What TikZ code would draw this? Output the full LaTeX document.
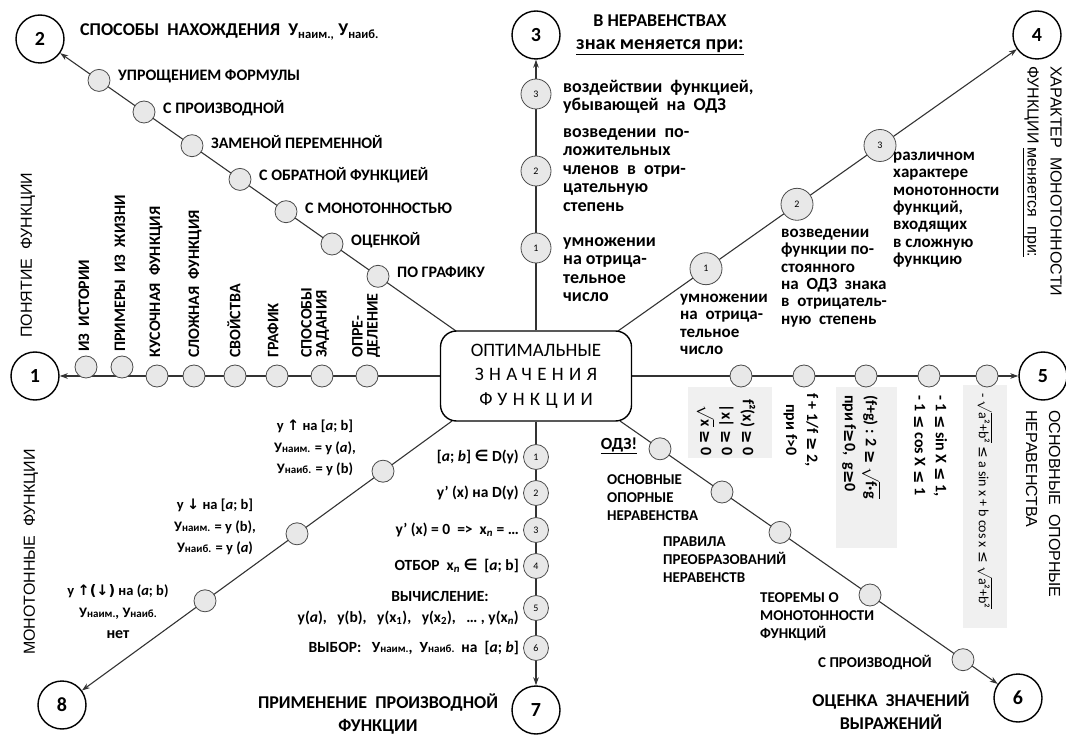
\documentclass[tikz,border=0pt]{standalone}
\usepackage{fontspec}
\setmainfont{Carlito}
\newfontfamily\symf{DejaVu Sans}
\newfontfamily\arl{Liberation Sans}
\usetikzlibrary{arrows.meta,calc}
\pgfdeclarelayer{bg}\pgfsetlayers{bg,main}
\newcommand{\fsz}[2]{\fontsize{#1}{#2}\selectfont}
\newcommand{\gee}{{\symf ≥}}
\newcommand{\lee}{{\symf ≤}}
\newcommand{\yn}[1]{У{\fsz{11}{11}#1}}
\begin{document}
\begin{tikzpicture}[x=1pt,y=-1pt,
  ln/.style={draw=black!80, line width=1.1pt},
  arr/.style={-{Stealth[length=8pt,width=5.5pt]}},
  big/.style={circle, draw, line width=1.4pt, minimum size=48pt, inner sep=0pt, fill=white, font=\fsz{20}{20}\bfseries},
  sc/.style={circle, draw=black!70, line width=0.8pt, fill=black!9, minimum size=22pt, inner sep=0pt},
  scn/.style={sc, minimum size=30pt, font=\fsz{10}{10}},
  scm/.style={sc, minimum size=25pt, font=\fsz{10}{10}},
  lab/.style={inner sep=0pt, font=\fsz{16}{18}\bfseries},
  blk/.style={inner sep=0pt, align=left, anchor=north west, font=\fsz{18}{18.5}\bfseries},
  blkf/.style={inner sep=0pt, align=left, anchor=north west, font=\fsz{17}{17.3}\bfseries},
  blks/.style={inner sep=0pt, align=left, anchor=north west, font=\fsz{15}{18}\bfseries},
  ttl/.style={inner sep=0pt, font=\fsz{18}{23}\bfseries, align=center},
  rttl/.style={inner sep=0pt, font=\arl\fsz{16}{23}, align=left},
  vlab/.style={inner sep=0pt, rotate=90, anchor=west, align=left, font=\fsz{16}{15}\bfseries},
  rot/.style={inner sep=0pt, rotate=-90, font=\fsz{16}{21}\bfseries},
  lsev/.style={inner sep=0pt, anchor=east, font=\fsz{15.5}{15}\bfseries},
  leig/.style={inner sep=0pt, align=center, font=\fsz{14.5}{21.5}\bfseries},
  gbox/.style={fill=black!6, draw=none}]
\useasboundingbox (0,0) rectangle (1066,735);

% central box
\node[draw, line width=1.4pt, rounded corners=16pt, minimum width=191pt, minimum height=90pt,
      align=center, inner sep=0pt, font=\fsz{19}{24.5}] (box) at (536,376)
  {ОПТИМАЛЬНЫЕ\\{\addfontfeature{LetterSpace=28}ЗНАЧЕНИЯ}\\{\addfontfeature{LetterSpace=28}ФУНКЦИИ}};

% numbered circles
\node[big] (n1) at (35,376) {1};
\node[big] (n2) at (40,39) {2};
\node[big] (n3) at (536,35) {3};
\node[big] (n4) at (1037,35) {4};
\node[big] (n5) at (1043,376) {5};
\node[big] (n6) at (1018,698) {6};
\node[big] (n7) at (536,710) {7};
\node[big] (n8) at (62,705) {8};

% start points on the box
\coordinate (s2) at (456,331);
\coordinate (s4) at (618,331);
\coordinate (s6) at (620,421);
\coordinate (s8) at (452,421);

% gray boxes
\begin{pgfonlayer}{bg}
\path[gbox] (688,387) rectangle (772,458);
\path[gbox] (836,387) rectangle (897,548);
\path[gbox] (963,385) rectangle (1007,628);
\end{pgfonlayer}

% ---- branch 1
\node[sc] (a1) at (86,367) {};
\node[sc] (a2) at (122,367) {};
\node[sc] (a3) at (157,376) {};
\node[sc] (a4) at (194,376) {};
\node[sc] (a5) at (235,376) {};
\node[sc] (a6) at (277,376) {};
\node[sc] (a7) at (322,376) {};
\node[sc] (a8) at (367,376) {};
\node[vlab] (la1) at (84,352) {ИЗ\ \ ИСТОРИИ};
\node[vlab] (la2) at (120,352) {ПРИМЕРЫ\ \ ИЗ\ \ ЖИЗНИ};
\node[vlab] (la3) at (156,358) {КУСОЧНАЯ\ \ ФУНКЦИЯ};
\node[vlab] (la4) at (195,358) {СЛОЖНАЯ\ \ ФУНКЦИЯ};
\node[vlab] (la5) at (234,358) {СВОЙСТВА};
\node[vlab] (la6) at (273,358) {ГРАФИК};
\node[vlab] (la7) at (315,358) {СПОСОБЫ\\ЗАДАНИЯ};
\node[vlab] (la8) at (366,358) {ОПРЕ-\\ДЕЛЕНИЕ};
\node[rttl, rotate=90, anchor=west] (t1) at (28,338) {ПОНЯТИЕ\ \ ФУНКЦИИ};

% ---- branch 2
\node[sc] (b1) at (99,80.4) {};
\node[sc] (b2) at (144,112.0) {};
\node[sc] (b3) at (192,145.7) {};
\node[sc] (b4) at (240,179.4) {};
\node[sc] (b5) at (286,211.7) {};
\node[sc] (b6) at (332,244.0) {};
\node[sc] (b7) at (378,276.3) {};
\node[lab, anchor=west] (lb1) at (118,76) {УПРОЩЕНИЕМ ФОРМУЛЫ};
\node[lab, anchor=west] (lb2) at (163,108) {С ПРОИЗВОДНОЙ};
\node[lab, anchor=west] (lb3) at (211,142) {ЗАМЕНОЙ ПЕРЕМЕННОЙ};
\node[lab, anchor=west] (lb4) at (259,175) {С ОБРАТНОЙ ФУНКЦИЕЙ};
\node[lab, anchor=west] (lb5) at (305,208) {С МОНОТОННОСТЬЮ};
\node[lab, anchor=west] (lb6) at (351,240) {ОЦЕНКОЙ};
\node[lab, anchor=west] (lb7) at (397,272) {ПО ГРАФИКУ};
\node[ttl, anchor=west] (t2) at (80,32) {СПОСОБЫ\ \ НАХОЖДЕНИЯ\ \ У\textsubscript{наим.,}\ У\textsubscript{наиб.}};

% ---- branch 3
\node[scn] (c1) at (536,248) {1};
\node[scn] (c2) at (536,171) {2};
\node[scn] (c3) at (536,94) {3};
\node[blk] (lc3) at (563,80) {воздействии\ \ функцией,\\убывающей\ \ на\ \ ОДЗ};
\node[blk] (lc2) at (563,128) {возведении\ \ по-\\ложительных\\членов\ \ в\ \ отри-\\цательную\\степень};
\node[blk] (lc1) at (563,237) {умножении\\на отрица-\\тельное\\число};
\node[ttl] (t3) at (660,35) {В НЕРАВЕНСТВАХ\\{\fsz{20}{23}\underline{знак меняется при:}}};

% ---- branch 4
\node[scn, minimum size=32pt] (d1) at (706,268.7) {1};
\node[scn, minimum size=32pt] (d2) at (797,204.3) {2};
\node[scn, minimum size=32pt] (d3) at (880,145.5) {3};
\node[blkf] (ld1) at (680,294) {умножении\\на\ \ отрица-\\тельное\\число};
\node[blkf] (ld2) at (781,229) {возведении\\функции по-\\стоянного\\на\ \ ОДЗ\ \ знака\\в\ \ отрицатель-\\ную\ \ степень};
\node[blkf] (ld3) at (893,152) {различном\\характере\\монотонности\\функций,\\входящих\\в сложную\\функцию};
\node[rttl, rotate=-90, anchor=west] (t4) at (1042,66) {ХАРАКТЕР\ \ МОНОТОННОСТИ\\ФУНКЦИИ \underline{меняется\ \ при:}};

% ---- branch 5
\node[sc] (e1) at (741,376) {};
\node[sc] (e2) at (804,376) {};
\node[sc] (e3) at (866,376) {};
\node[sc] (e4) at (929,376) {};
\node[sc] (e5) at (987,376) {};
\node[rot, anchor=east, align=right] (le1) at (726,456) {f²(x) \gee\ 0\\|x| \gee\ 0\\$\sqrt{\mbox{x}}$ \gee\ 0};
\node[rot, anchor=west, align=center] (le2) at (801,393) {f + 1/f \gee\ 2,\\при f>0};
\node[rot, anchor=west, align=left] (le3) at (861,395) {(f+g) : 2 \gee\ $\sqrt{\mbox{f·g}}$\\при f\gee0,\ \ g\gee0};
\node[rot, anchor=west, align=left] (le4) at (931,395) {- 1 \lee\ sin X\ \lee\ 1,\\- 1 \lee\ cos X \lee\ 1};
\node[rot, anchor=west, font=\fsz{14}{14}] (le5) at (985,393) {- $\sqrt{\mbox{a²+b²}}$ \lee\ a sin x + b cos x \lee\ $\sqrt{\mbox{a²+b²}}$};
\node[rttl, rotate=-90, anchor=west] (t5) at (1043,410) {ОСНОВНЫЕ\ \ ОПОРНЫЕ\\НЕРАВЕНСТВА};

% ---- branch 6
\node[sc] (f1) at (660,448.8) {};
\node[sc] (f2) at (722,492.0) {};
\node[sc] (f3) at (780,532.4) {};
\node[sc] (f4) at (870,595.0) {};
\node[sc] (f5) at (963,659.7) {};
\node[lab, font=\fsz{17}{17}\bfseries] (lf0) at (619,446) {\underline{ОДЗ!}};
\node[blks] (lf1) at (607,474) {ОСНОВНЫЕ\\ОПОРНЫЕ\\НЕРАВЕНСТВА};
\node[blks] (lf2) at (663,537) {ПРАВИЛА\\ПРЕОБРАЗОВАНИЙ\\НЕРАВЕНСТВ};
\node[blks] (lf3) at (760,592) {ТЕОРЕМЫ О\\МОНОТОННОСТИ\\ФУНКЦИЙ};
\node[lab, anchor=west, font=\fsz{15}{15}\bfseries] (lf4) at (818,663) {С ПРОИЗВОДНОЙ};
\node[ttl] (t6) at (891,711) {ОЦЕНКА\ \ ЗНАЧЕНИЙ\\ВЫРАЖЕНИЙ};

% ---- branch 7
\node[scm] (g1) at (536,457) {1};
\node[scm] (g2) at (536,493) {2};
\node[scm] (g3) at (536,530) {3};
\node[scm] (g4) at (536,566) {4};
\node[scm] (g5) at (536,608) {5};
\node[scm] (g6) at (536,648) {6};
\node[lsev] (lg1) at (519,457) {[\textit{a}; \textit{b}] {\symf ∈} D(y)};
\node[lsev] (lg2) at (519,493) {y' (x) на D(y)};
\node[lsev] (lg3) at (519,530) {y' (x) = 0\ \ =>\ \ x\textsubscript{\textit{n}} = …};
\node[lsev] (lg4) at (519,566) {ОТБОР\ \ x\textsubscript{\textit{n}} {\symf ∈}\ \ [\textit{a}; b]};
\node[lab, font=\fsz{15.5}{15}\bfseries] (lg5a) at (440,596) {ВЫЧИСЛЕНИЕ:};
\node[lsev] (lg5) at (519,618) {y(\textit{a}),\ \ \ y(b),\ \ \ y(x\textsubscript{1}),\ \ \ y(x\textsubscript{2}),\ \ \ … , y(x\textsubscript{\textit{n}})};
\node[lsev] (lg6) at (519,648) {ВЫБОР:\ \ \ \yn{наим.},\ \ \yn{наиб.}\ \ на\ \ [\textit{a}; \textit{b}]};
\node[ttl] (t7) at (378,714) {ПРИМЕНЕНИЕ\ \ ПРОИЗВОДНОЙ\\ФУНКЦИИ};

% ---- branch 8
\node[sc] (h1) at (383,471.2) {};
\node[sc] (h2) at (297,533.8) {};
\node[sc] (h3) at (205,600.8) {};
\node[leig] (lh1) at (315,448) {y {\symf ↑} на [\textit{a}; b]\\\yn{наим.} = y (\textit{a}),\\\yn{наиб.} = y (b)};
\node[leig] (lh2) at (215,527) {y {\symf ↓} на [\textit{a}; b]\\\yn{наим.} = y (b),\\\yn{наиб.} = y (\textit{a})};
\node[leig] (lh3) at (118,612) {y {\symf ↑(↓)} на (\textit{a}; b)\\\yn{наим.}, \yn{наиб.}\\{\fsz{16}{16}нет}};
\node[rttl, rotate=90, anchor=west] (t8) at (31,655) {МОНОТОННЫЕ\ \ ФУНКЦИИ};

% ---- connectors
\begin{pgfonlayer}{bg}
\draw[ln,arr] (box.west) -- (n1);
\draw[ln,arr] (s2) -- (n2);
\draw[ln,arr] (box.north) -- (n3);
\draw[ln,arr] (s4) -- (n4);
\draw[ln,arr] (box.east) -- (n5);
\draw[ln,arr] (s6) -- (n6);
\draw[ln,arr] (box.south) -- (n7);
\draw[ln,arr] (s8) -- (n8);
\end{pgfonlayer}
\end{tikzpicture}
\end{document}
